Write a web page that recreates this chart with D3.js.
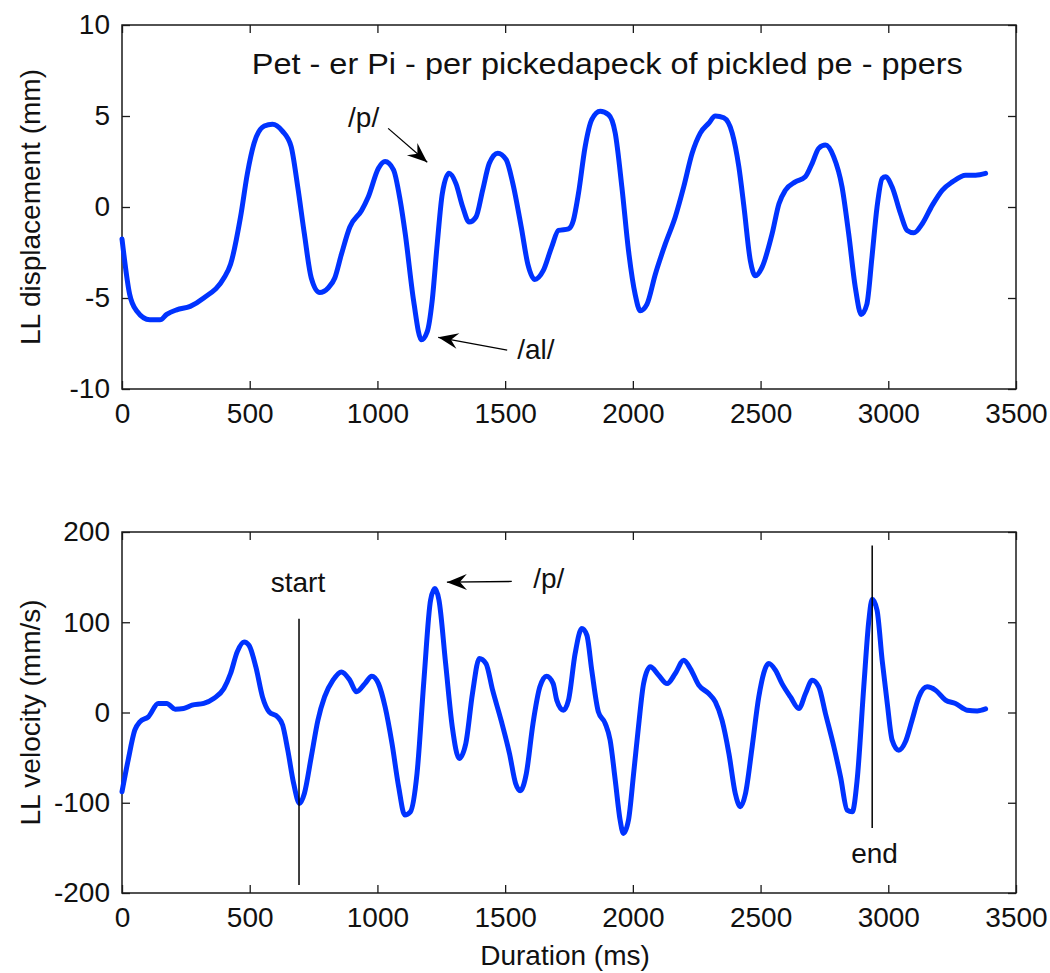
<!DOCTYPE html>
<html>
<head>
<meta charset="utf-8">
<script src="https://cdn.jsdelivr.net/npm/d3@7/dist/d3.min.js"></script>
<style>
  body { margin:0; background:#fff; }
  svg { display:block; font-family:"Liberation Sans", Arial, sans-serif; }
</style>
</head>
<body>
<svg id="chart" width="1050" height="973"></svg>
<script>
// ───────────── data ─────────────
const xTicks = [0, 500, 1000, 1500, 2000, 2500, 3000, 3500];
const dispTicks = [-10, -5, 0, 5, 10];
const velTicks = [-200, -100, 0, 100, 200];

// LL displacement (mm) vs time (ms)
const dispTime = [0, 30, 57, 109, 149, 175, 214, 267, 320, 399, 425, 464, 491, 517, 557, 589, 628, 662, 688, 714,
  741, 774, 807, 833, 859, 892, 938, 964, 1004, 1030, 1063, 1089, 1109, 1142, 1172, 1195, 1214, 1234, 1254, 1280,
  1307, 1334, 1359, 1386, 1412, 1438, 1471, 1504, 1530, 1563, 1589, 1616, 1649, 1682, 1709, 1748, 1767, 1787, 1813, 1839,
  1872, 1905, 1931, 1957, 1983, 2009, 2029, 2055, 2088, 2127, 2166, 2199, 2232, 2264, 2297, 2323, 2356, 2389, 2415, 2435,
  2460, 2480, 2506, 2545, 2572, 2597, 2636, 2675, 2702, 2728, 2754, 2786, 2819, 2845, 2871, 2894, 2916, 2936, 2956, 2976,
  2989, 3015, 3048, 3074, 3100, 3133, 3172, 3211, 3251, 3303, 3342, 3381];
const dispValue = [-1.76, -4.8, -5.7, -6.2, -6.2, -5.9, -5.65, -5.46, -5.0, -3.9, -3.15, -0.55, 1.85, 3.5, 4.45, 4.55, 4.17, 3.33, 1.1, -1.48,
  -3.9, -4.7, -4.45, -3.9, -2.6, -1.1, -0.19, 0.55, 2.13, 2.5, 2.04, 0.37, -1.48, -5.19, -7.3, -6.85, -5.19, -2.04, 0.74, 1.85,
  1.3, 0, -0.83, -0.55, 0.93, 2.4, 2.96, 2.6, 1.3, -1.1, -3.15, -3.98, -3.5, -2.2, -1.29, -1.2, -0.74, 0.74, 3.3, 4.8,
  5.26, 5.07, 4.06, 1.1, -2.4, -4.8, -5.7, -5.35, -3.69, -2.03, -0.55, 1.1, 2.95, 4.06, 4.6, 5.0, 4.9, 4.06, 2.2, 0,
  -2.95, -3.78, -3.3, -1.48, 0.18, 0.92, 1.38, 1.66, 2.4, 3.23, 3.4, 2.77, 1.1, -1.48, -4.43, -5.9, -5.35, -2.77, 0, 1.57,
  1.66, 1.1, -0.37, -1.29, -1.42, -0.92, 0.09, 0.92, 1.38, 1.75, 1.75, 1.85];

// LL velocity (mm/s) vs time (ms)
const velTime = [0, 24, 50, 70, 103, 142, 175, 208, 241, 274, 320, 359, 399, 425, 451, 478, 497, 524, 550, 576,
  609, 629, 649, 672, 695, 714, 741, 767, 793, 826, 859, 892, 918, 951, 978, 1004, 1030, 1057, 1083, 1107,
  1129, 1155, 1182, 1208, 1225, 1241, 1267, 1293, 1320, 1346, 1372, 1399, 1425, 1451, 1484, 1517, 1541, 1559, 1583, 1609,
  1636, 1662, 1688, 1702, 1728, 1748, 1774, 1800, 1820, 1839, 1865, 1892, 1911, 1931, 1950, 1963, 1983, 2003, 2022, 2042,
  2068, 2101, 2134, 2166, 2199, 2225, 2258, 2297, 2323, 2349, 2376, 2401, 2421, 2441, 2467, 2493, 2532, 2558, 2584, 2617,
  2650, 2676, 2702, 2728, 2754, 2787, 2813, 2839, 2859, 2878, 2904, 2924, 2937, 2956, 2976, 2996, 3015, 3041, 3067, 3093,
  3120, 3152, 3185, 3224, 3263, 3309, 3348, 3381];
const velValue = [-87.8, -52.8, -19.6, -10.3, -4.8, 10, 10, 3.7, 4.4, 8.1, 10, 15.5, 26.6, 43.2, 67.2, 78.2, 74.5, 50.6, 17.3, 0.7,
  -4.8, -14, -41.7, -78.6, -100.7, -89.7, -49, -8.5, 17.3, 35.8, 45, 35.8, 22.9, 32, 40.2, 32, 6.3, -34.3, -82.3, -113.6,
  -110, -67.5, 35.8, 124.4, 137.3, 124.4, 54.2, -15.9, -50.9, -34.3, 21, 59.8, 54.2, 24.7, -8.5, -45.4, -78.6, -86.7, -67.5, -12.2,
  28.4, 40.2, 32, 13.7, 2.6, 13.7, 65.3, 93, 85.6, 46.9, 0.7, -12.2, -30.6, -74.9, -119, -134, -119, -67.5, -15.9, 32,
  50.6, 41.3, 32, 43.2, 57.9, 48.7, 30.3, 21, 11.8, -8.5, -45.4, -89.7, -104.4, -89.7, -38, 17.3, 54.2, 46.9, 32, 17.3,
  4.4, 21, 35.8, 28.4, -1.1, -38, -71.2, -108.1, -110, -74.9, 28.4, 102.2, 125.5, 113.3, 57.9, 10, -30.6, -41.7, -32.5, -8.5,
  17.3, 28.4, 24.7, 13.7, 10, 2.6, 1.8, 4];

// annotations, in data units [time, value]
const titleText = 'Pet - er Pi - per pickedapeck of pickled pe - ppers';
const dispNotes = [
  { text: '/p/', at: [885, 4.38], from: [1042, 4.32], to: [1195, 2.46] },
  { text: '/al/', at: [1547, -8.37], from: [1508, -7.87], to: [1238, -7.16] }
];
const velNotes = [
  { text: '/p/', at: [1610, 137.5], from: [1526, 145.2], to: [1272, 144.4] }
];
const velMarkers = [
  { text: 'start', t: 693, y0: -191, y1: 104, labelAt: [689, 133] },
  { text: 'end', t: 2937, y0: -128, y1: 185, labelAt: [2946, -166.6] }
];

// ───────────── layout ─────────────
const LEFT = 122, RIGHT = 1016;
const FONT = '28px';
const svg = d3.select('#chart');
const AX = '#1a1a1a';
const BLUE = '#0033ff';

svg.append('defs').append('marker')
  .attr('id', 'head').attr('viewBox', '-21 -9 23 18')
  .attr('refX', 0).attr('refY', 0)
  .attr('markerWidth', 23).attr('markerHeight', 18)
  .attr('markerUnits', 'userSpaceOnUse').attr('orient', 'auto')
  .append('path').attr('d', 'M0,0 L-20,-8 L-13,0 L-20,8 Z').attr('fill', '#000');

const x = d3.scaleLinear().domain([0, 3500]).range([LEFT, RIGHT]);

function panel(top, bottom, yDomain, yTicks, times, values, ylabel) {
  const y = d3.scaleLinear().domain(yDomain).range([bottom, top]);
  const g = svg.append('g');

  const fmt = d => String(d);
  const style = sel => {
    sel.select('.domain').remove();
    sel.selectAll('.tick line').attr('stroke', AX).attr('stroke-width', 1.3);
    sel.selectAll('.tick text').attr('fill', '#111').style('font-size', FONT)
      .style('font-family', '"Liberation Sans", Arial, sans-serif');
  };

  g.append('g').attr('transform', `translate(0,${bottom})`)
    .call(d3.axisBottom(x).tickValues(xTicks).tickFormat(fmt).tickSizeInner(-8).tickSizeOuter(0).tickPadding(14))
    .call(style);
  g.append('g').attr('transform', `translate(0,${top})`)
    .call(d3.axisTop(x).tickValues(xTicks).tickFormat('').tickSizeInner(-8).tickSizeOuter(0))
    .call(style);
  g.append('g').attr('transform', `translate(${LEFT},0)`)
    .call(d3.axisLeft(y).tickValues(yTicks).tickFormat(fmt).tickSizeInner(-8).tickSizeOuter(0).tickPadding(12))
    .call(style);
  g.append('g').attr('transform', `translate(${RIGHT},0)`)
    .call(d3.axisRight(y).tickValues(yTicks).tickFormat('').tickSizeInner(-8).tickSizeOuter(0))
    .call(style);

  g.append('rect').attr('x', LEFT).attr('y', top).attr('width', RIGHT - LEFT).attr('height', bottom - top)
    .attr('fill', 'none').attr('stroke', AX).attr('stroke-width', 1.5);

  const pts = times.map((t, i) => [t, values[i]]);
  g.append('path').datum(pts)
    .attr('d', d3.line().x(d => x(d[0])).y(d => y(d[1])).curve(d3.curveMonotoneX))
    .attr('fill', 'none').attr('stroke', BLUE).attr('stroke-width', 5)
    .attr('stroke-linejoin', 'round').attr('stroke-linecap', 'round');

  g.append('text')
    .attr('transform', `translate(40,${(top + bottom) / 2}) rotate(-90)`)
    .attr('text-anchor', 'middle').style('font-size', FONT).attr('fill', '#111')
    .text(ylabel);

  return { g, y };
}

function notes(p, list) {
  list.forEach(n => {
    p.g.append('line')
      .attr('x1', x(n.from[0])).attr('y1', p.y(n.from[1]))
      .attr('x2', x(n.to[0])).attr('y2', p.y(n.to[1]))
      .attr('stroke', '#000').attr('stroke-width', 1.3).attr('marker-end', 'url(#head)');
    p.g.append('text').attr('x', x(n.at[0])).attr('y', p.y(n.at[1]))
      .style('font-size', FONT).attr('fill', '#111').text(n.text);
  });
}

// top: displacement
const top1 = panel(25, 389, [-10, 10], dispTicks, dispTime, dispValue, 'LL displacement (mm)');
top1.g.append('text').attr('x', x(508)).attr('y', top1.y(7.29))
  .attr('textLength', 711).attr('lengthAdjust', 'spacingAndGlyphs')
  .style('font-size', '29px').attr('fill', '#111').text(titleText);
notes(top1, dispNotes);

// bottom: velocity
const bot = panel(532, 893, [-200, 200], velTicks, velTime, velValue, 'LL velocity (mm/s)');
velMarkers.forEach(m => {
  bot.g.append('line').attr('x1', x(m.t)).attr('x2', x(m.t))
    .attr('y1', bot.y(m.y0)).attr('y2', bot.y(m.y1))
    .attr('stroke', '#000').attr('stroke-width', 1.5);
  bot.g.append('text').attr('x', x(m.labelAt[0])).attr('y', bot.y(m.labelAt[1]))
    .attr('text-anchor', 'middle').style('font-size', FONT).attr('fill', '#111').text(m.text);
});
notes(bot, velNotes);

svg.append('text').attr('x', 565).attr('y', 965).attr('text-anchor', 'middle')
  .style('font-size', FONT).attr('fill', '#111').text('Duration (ms)');
</script>
</body>
</html>
